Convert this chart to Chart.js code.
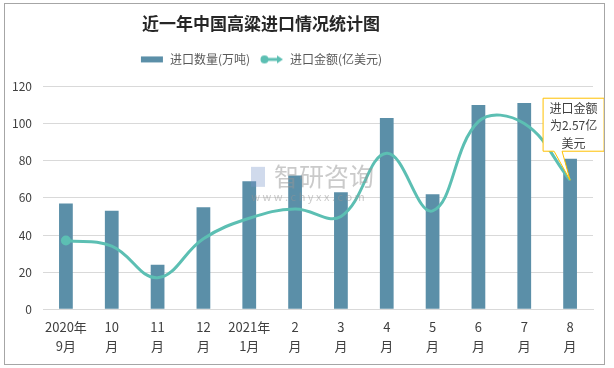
<!DOCTYPE html>
<html>
<head>
<meta charset="utf-8">
<script src="https://cdn.jsdelivr.net/npm/chart.js@4.4.1/dist/chart.umd.min.js"></script>
<style>
    html, body { margin: 0; padding: 0; background: #fff; }
    .frame {
        position: absolute;
        left: 4px; top: 3px;
        width: 601px; height: 362px;
        box-sizing: border-box;
        border: 1px solid #a6a6a6;
    }
</style>
</head>
<body>
<div class="frame"><canvas id="sorghumChart"></canvas></div>
<script>
// Chart data
const categories = [
    ['2020年', '9月'], ['10', '月'], ['11', '月'], ['12', '月'],
    ['2021年', '1月'], ['2', '月'], ['3', '月'], ['4', '月'],
    ['5', '月'], ['6', '月'], ['7', '月'], ['8', '月']
];
const importVolume = [57, 53, 24, 55, 69, 72, 63, 103, 62, 110, 111, 81];
const importValue = [37, 34, 17, 38, 49, 54, 50, 84, 53, 101, 100, 69.5];
const yTicks = [0, 20, 40, 60, 80, 100, 120];
const calloutLines = ['进口金额', '为2.57亿', '美元'];

const FONT = "'Noto Sans CJK SC', 'Microsoft YaHei', sans-serif";
const BAR_COLOR = '#5b8fa8';
const LINE_COLOR = '#5cbfb3';
const HEADER_SHIFT = -38;   // title and legend sit left of centre in the original

/**
 * Legend markers
 */
function makeBarMarker() {
    const c = document.createElement('canvas');
    c.width = 24; c.height = 8;
    const ctx = c.getContext('2d');
    ctx.fillStyle = BAR_COLOR;
    ctx.fillRect(1, 1, 22, 6);
    return c;
}

function makeLineMarker() {
    const c = document.createElement('canvas');
    c.width = 24; c.height = 10;
    const ctx = c.getContext('2d');
    ctx.strokeStyle = LINE_COLOR;
    ctx.fillStyle = LINE_COLOR;
    ctx.lineWidth = 3;
    ctx.beginPath();
    ctx.moveTo(4, 5);
    ctx.lineTo(19, 5);
    ctx.stroke();
    ctx.beginPath();
    ctx.arc(4.5, 5, 4, 0, Math.PI * 2);
    ctx.fill();
    ctx.beginPath();
    ctx.moveTo(17, 1);
    ctx.lineTo(23, 5);
    ctx.lineTo(17, 9);
    ctx.closePath();
    ctx.fill();
    return c;
}

// Extra room under the legend, and move the header left
const headerPlugin = {
    id: 'header',
    beforeInit(chart) {
        const legend = chart.legend;
        if (legend) {
            const fit = legend.fit;
            legend.fit = function() {
                fit.call(this);
                this.height += 11;
            };
        }
    },
    afterLayout(chart) {
        [chart.titleBlock, chart.legend].forEach(box => {
            if (box) {
                box.left += HEADER_SHIFT;
                box.right += HEADER_SHIFT;
            }
        });
    }
};

// Watermark drawn over the bars
const watermarkPlugin = {
    id: 'watermark',
    afterDatasetsDraw(chart) {
        const { ctx, chartArea } = chart;
        const cx = (chartArea.left + chartArea.right) / 2;
        const cy = (chartArea.top + chartArea.bottom) / 2;
        ctx.save();
        ctx.textAlign = 'center';
        ctx.textBaseline = 'middle';
        ctx.fillStyle = 'rgba(150, 150, 150, 0.5)';
        ctx.font = '25px ' + FONT;
        ctx.fillText('智研咨询', cx + 6, cy - 21);
        ctx.font = '11px ' + FONT;
        ctx.fillText('w w w . c h y x x . c o m', cx - 10, cy - 1);
        ctx.fillStyle = 'rgba(120, 150, 200, 0.35)';
        ctx.fillRect(cx - 67, cy - 31, 14, 20);
        ctx.restore();
    }
};

// Callout box pointing at the last amount point
const calloutPlugin = {
    id: 'callout',
    afterDraw(chart) {
        const meta = chart.getDatasetMeta(1);
        const pt = meta.data[meta.data.length - 1];
        if (!pt) return;
        const { ctx } = chart;
        const px = pt.x, py = pt.y;
        const left = px - 27, right = px + 34;
        const top = py - 82, bottom = py - 29;
        ctx.save();
        ctx.beginPath();
        ctx.moveTo(left, top);
        ctx.lineTo(right, top);
        ctx.lineTo(right, bottom);
        ctx.lineTo(px - 8, bottom);
        ctx.lineTo(px, py);
        ctx.lineTo(px - 16, bottom);
        ctx.lineTo(left, bottom);
        ctx.closePath();
        ctx.fillStyle = '#ffffff';
        ctx.fill();
        ctx.strokeStyle = '#ffc000';
        ctx.lineWidth = 1;
        ctx.stroke();
        ctx.fillStyle = '#404040';
        ctx.font = '12px ' + FONT;
        ctx.textAlign = 'center';
        ctx.textBaseline = 'middle';
        const midX = (left + right) / 2;
        calloutLines.forEach((line, i) => {
            ctx.fillText(line, midX, top + 10 + i * 17.5);
        });
        ctx.restore();
    }
};

const ctx = document.getElementById('sorghumChart').getContext('2d');
const chart = new Chart(ctx, {
    data: {
        labels: categories,
        datasets: [{
            type: 'bar',
            label: '进口数量(万吨)',
            data: importVolume,
            backgroundColor: BAR_COLOR,
            categoryPercentage: 1,
            barPercentage: 0.3,
            order: 1
        }, {
            type: 'line',
            label: '进口金额(亿美元)',
            data: importValue,
            borderColor: LINE_COLOR,
            backgroundColor: LINE_COLOR,
            borderWidth: 3,
            tension: 0.4,
            pointRadius: importValue.map((v, i) => i === 0 ? 5 : 0),
            pointBackgroundColor: LINE_COLOR,
            pointBorderWidth: 0,
            order: 0
        }]
    },
    options: {
        responsive: true,
        maintainAspectRatio: false,
        animation: false,
        events: [],
        layout: {
            padding: { left: 0, right: 11, top: 0, bottom: 1 }
        },
        plugins: {
            tooltip: { enabled: false },
            title: {
                display: true,
                text: '近一年中国高粱进口情况统计图',
                color: '#262626',
                font: { family: FONT, size: 17, weight: 'bold' },
                padding: { top: 9, bottom: 10 }
            },
            legend: {
                display: true,
                position: 'top',
                labels: {
                    usePointStyle: true,
                    pointStyleWidth: 24,
                    padding: 10,
                    color: '#595959',
                    font: { family: FONT, size: 12 },
                    sort: (a, b) => a.datasetIndex - b.datasetIndex,
                    generateLabels(chart) {
                        return chart.data.datasets.map((ds, i) => ({
                            text: ds.label,
                            datasetIndex: i,
                            pointStyle: i === 0 ? makeBarMarker() : makeLineMarker(),
                            fillStyle: ds.backgroundColor,
                            strokeStyle: ds.backgroundColor,
                            lineWidth: 0,
                            fontColor: '#595959',
                            hidden: false
                        }));
                    }
                }
            }
        },
        scales: {
            x: {
                grid: { display: false, drawTicks: false },
                border: { display: true, color: '#d9d9d9' },
                ticks: {
                    color: '#404040',
                    font: { family: FONT, size: 13, lineHeight: 1.45 },
                    padding: 8,
                    maxRotation: 0,
                    autoSkip: false
                }
            },
            y: {
                min: 0,
                max: 120,
                afterFit(scale) { scale.width = 38; },
                afterBuildTicks(scale) {
                    scale.ticks = yTicks.map(v => ({ value: v }));
                },
                grid: { color: '#d9d9d9', drawTicks: false },
                border: { display: false },
                ticks: {
                    color: '#404040',
                    font: { family: FONT, size: 12 },
                    padding: 11
                }
            }
        }
    },
    plugins: [headerPlugin, watermarkPlugin, calloutPlugin]
});
</script>
</body>
</html>
